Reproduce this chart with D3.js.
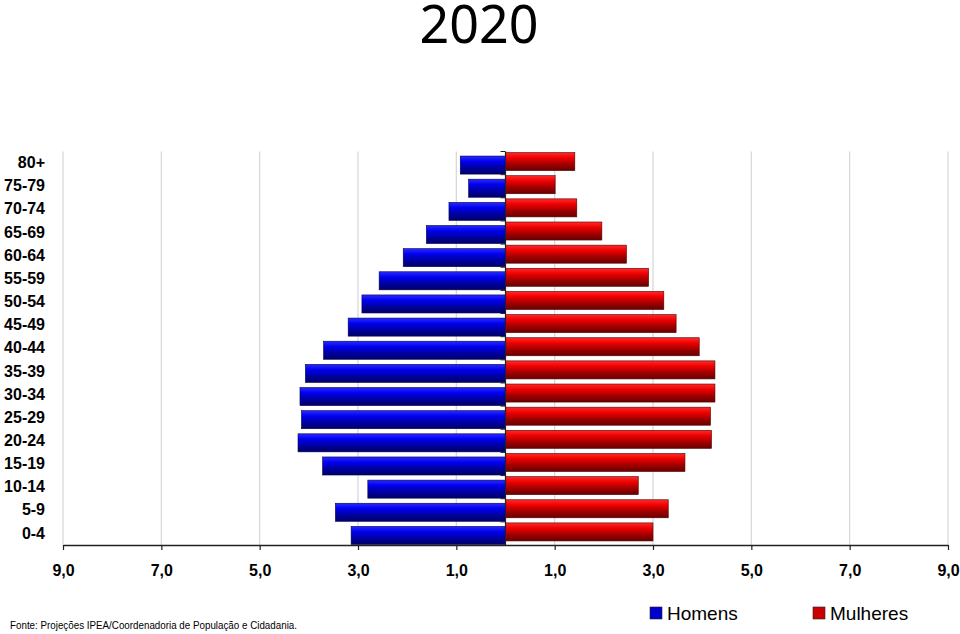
<!DOCTYPE html>
<html>
<head>
<meta charset="utf-8">
<script src="https://cdn.jsdelivr.net/npm/d3@7"></script>
<style>
  body { margin: 0; background: #fff; }
  svg { display: block; }
</style>
</head>
<body>
<svg id="chart"></svg>
<script>
// age groups, top to bottom
const ageGroups = ["80+", "75-79", "70-74", "65-69", "60-64", "55-59", "50-54", "45-49",
    "40-44", "35-39", "30-34", "25-29", "20-24", "15-19", "10-14", "5-9", "0-4"];

// % of population
const homens = [0.92, 0.75, 1.15, 1.61, 2.08, 2.57, 2.92, 3.20,
    3.70, 4.07, 4.18, 4.15, 4.22, 3.72, 2.80, 3.46, 3.14];
const mulheres = [1.41, 1.01, 1.45, 1.96, 2.46, 2.91, 3.22, 3.47,
    3.94, 4.26, 4.26, 4.17, 4.19, 3.65, 2.70, 3.31, 3.00];

const xTicks = [-9, -7, -5, -3, -1, 1, 3, 5, 7, 9];

const width = 960;
const height = 634;

const svg = d3.select("#chart")
    .attr("width", width)
    .attr("height", height);

// ---- gradients (3d-ish bars)
const defs = svg.append("defs");
function addGradient(id, stops) {
    const gr = defs.append("linearGradient")
        .attr("id", id)
        .attr("x1", 0).attr("y1", 0)
        .attr("x2", 0).attr("y2", 1);
    stops.forEach(s => gr.append("stop").attr("offset", s[0]).attr("stop-color", s[1]));
}
addGradient("gradBlue", [[0, "#2a2aff"], [0.3, "#0000ee"], [0.65, "#0000a0"], [1, "#000068"]]);
addGradient("gradRed", [[0, "#ff2a2a"], [0.3, "#ee0000"], [0.65, "#a00000"], [1, "#680000"]]);

// ---- scales
const plotTop = 151.5, plotBottom = 545;
const x = d3.scaleLinear().domain([-9, 9]).range([63, 948]);
const y = d3.scaleBand()
    .domain(ageGroups)
    .range([plotTop, plotBottom])
    .paddingInner(0.22)
    .paddingOuter(0.11);

// ---- title
svg.append("text")
    .attr("x", 479)
    .attr("y", 43)
    .attr("text-anchor", "middle")
    .style("font-family", "'Noto Sans', 'Open Sans', sans-serif")
    .style("font-size", "52px")
    .attr("fill", "#000")
    .text("2020");

// ---- vertical gridlines
svg.append("g")
    .selectAll("line")
    .data(xTicks)
    .join("line")
    .attr("x1", d => x(d)).attr("x2", d => x(d))
    .attr("y1", plotTop).attr("y2", plotBottom)
    .attr("stroke", "#d9d9d9")
    .attr("stroke-width", 1.3);

// ---- bars
const bars = svg.append("g");

bars.selectAll("rect.homens")
    .data(ageGroups)
    .join("rect")
    .attr("class", "homens")
    .attr("x", (d, i) => x(-homens[i]))
    .attr("y", d => y(d) + 2)
    .attr("width", (d, i) => x(0) - x(-homens[i]))
    .attr("height", y.bandwidth())
    .attr("fill", "url(#gradBlue)")
    .attr("stroke", "#000050")
    .attr("stroke-width", 0.6);

bars.selectAll("rect.mulheres")
    .data(ageGroups)
    .join("rect")
    .attr("class", "mulheres")
    .attr("x", x(0))
    .attr("y", d => y(d) - 1.5)
    .attr("width", (d, i) => x(mulheres[i]) - x(0))
    .attr("height", y.bandwidth())
    .attr("fill", "url(#gradRed)")
    .attr("stroke", "#500000")
    .attr("stroke-width", 0.6);

// ---- center (category) axis with boundary ticks
const centerAxis = svg.append("g");
centerAxis.append("line")
    .attr("x1", x(0)).attr("x2", x(0))
    .attr("y1", plotTop).attr("y2", plotBottom)
    .attr("stroke", "#222")
    .attr("stroke-width", 1.2);

const boundaries = ageGroups.map(d => y(d) - y.step() * y.paddingInner() / 2);
centerAxis.selectAll("line.tick")
    .data(boundaries)
    .join("line")
    .attr("class", "tick")
    .attr("x1", x(0) - 5).attr("x2", x(0))
    .attr("y1", d => d).attr("y2", d => d)
    .attr("stroke", "#222")
    .attr("stroke-width", 1);

// ---- category labels on the far left
const yAxis = svg.append("g")
    .attr("transform", "translate(45, 0)")
    .call(d3.axisLeft(y).tickSize(0).tickPadding(0));
yAxis.select(".domain").remove();
yAxis.selectAll("text")
    .style("font-family", "Arial, 'Liberation Sans', sans-serif")
    .style("font-size", "16px")
    .style("font-weight", "bold")
    .attr("fill", "#000");

// ---- bottom value axis
const xAxis = svg.append("g")
    .attr("transform", `translate(0, ${plotBottom})`)
    .call(d3.axisBottom(x)
        .tickValues(xTicks)
        .tickSize(5)
        .tickSizeOuter(0)
        .tickPadding(15)
        .tickFormat(d => Math.abs(d).toFixed(1).replace(".", ",")));
xAxis.select(".domain").attr("stroke", "#222").attr("stroke-width", 1.4);
xAxis.selectAll(".tick line").attr("stroke", "#222").attr("stroke-width", 1.2);
xAxis.selectAll("text")
    .style("font-family", "Arial, 'Liberation Sans', sans-serif")
    .style("font-size", "16px")
    .style("font-weight", "bold")
    .attr("fill", "#000");

// ---- legend
const legendItems = [
    { label: "Homens", color: "#0000cc", x: 650 },
    { label: "Mulheres", color: "#cc0000", x: 813 }
];
const legend = svg.append("g").selectAll("g")
    .data(legendItems)
    .join("g")
    .attr("transform", d => `translate(${d.x}, 607)`);

legend.append("rect")
    .attr("width", 12)
    .attr("height", 12)
    .attr("fill", d => d.color)
    .attr("stroke", "#222")
    .attr("stroke-width", 0.6);

legend.append("text")
    .attr("x", 17)
    .attr("y", 13)
    .style("font-family", "Arial, 'Liberation Sans', sans-serif")
    .style("font-size", "19px")
    .attr("fill", "#000")
    .text(d => d.label);

// ---- source note
svg.append("text")
    .attr("x", 10)
    .attr("y", 629)
    .attr("textLength", 287)
    .attr("lengthAdjust", "spacingAndGlyphs")
    .style("font-family", "Arial, 'Liberation Sans', sans-serif")
    .style("font-size", "10.5px")
    .attr("fill", "#000")
    .text("Fonte: Projeções IPEA/Coordenadoria de População e Cidadania.");
</script>
</body>
</html>
